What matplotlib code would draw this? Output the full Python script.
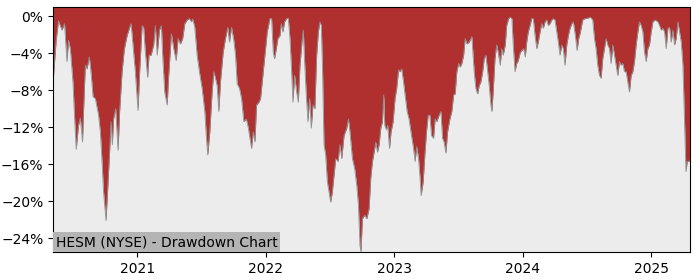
import numpy as np
import matplotlib
matplotlib.use("Agg")
import matplotlib.pyplot as plt
from matplotlib.ticker import MultipleLocator, PercentFormatter

# drawdown of HESM, x in decimal years, y in percent
years = [
    2020.345, 2020.368, 2020.386, 2020.413, 2020.433, 2020.452, 2020.464, 2020.478, 2020.499, 2020.509,
    2020.524, 2020.542, 2020.556, 2020.573, 2020.581, 2020.595, 2020.608, 2020.626, 2020.639, 2020.655,
    2020.673, 2020.698, 2020.712, 2020.725, 2020.737, 2020.756, 2020.768, 2020.784, 2020.795, 2020.805,
    2020.815, 2020.831, 2020.850, 2020.862, 2020.881, 2020.899, 2020.920, 2020.940, 2020.951, 2020.966,
    2020.984, 2021.005, 2021.018, 2021.037, 2021.049, 2021.062, 2021.080, 2021.091, 2021.107, 2021.127,
    2021.140, 2021.154, 2021.172, 2021.187, 2021.197, 2021.213, 2021.232, 2021.244, 2021.265, 2021.283,
    2021.302, 2021.317, 2021.335, 2021.353, 2021.369, 2021.388, 2021.405, 2021.421, 2021.431, 2021.447,
    2021.465, 2021.483, 2021.504, 2021.525, 2021.538, 2021.548, 2021.564, 2021.582, 2021.595, 2021.608,
    2021.621, 2021.634, 2021.647, 2021.668, 2021.686, 2021.704, 2021.717, 2021.733, 2021.751, 2021.764,
    2021.777, 2021.795, 2021.811, 2021.829, 2021.848, 2021.863, 2021.881, 2021.889, 2021.902, 2021.915,
    2021.928, 2021.946, 2021.959, 2021.985, 2022.011, 2022.032, 2022.045, 2022.058, 2022.068, 2022.084,
    2022.094, 2022.110, 2022.120, 2022.133, 2022.146, 2022.162, 2022.175, 2022.188, 2022.201, 2022.211,
    2022.224, 2022.240, 2022.253, 2022.266, 2022.284, 2022.292, 2022.302, 2022.315, 2022.328, 2022.341,
    2022.354, 2022.367, 2022.382, 2022.396, 2022.409, 2022.421, 2022.432, 2022.442, 2022.453, 2022.466,
    2022.479, 2022.492, 2022.505, 2022.518, 2022.531, 2022.544, 2022.562, 2022.577, 2022.591, 2022.609,
    2022.630, 2022.643, 2022.655, 2022.674, 2022.692, 2022.708, 2022.721, 2022.733, 2022.741, 2022.752,
    2022.770, 2022.786, 2022.804, 2022.817, 2022.830, 2022.843, 2022.856, 2022.869, 2022.882, 2022.895,
    2022.908, 2022.918, 2022.926, 2022.939, 2022.949, 2022.963, 2022.975, 2022.991, 2023.006, 2023.019,
    2023.033, 2023.045, 2023.058, 2023.072, 2023.084, 2023.100, 2023.115, 2023.134, 2023.150, 2023.162,
    2023.175, 2023.189, 2023.201, 2023.209, 2023.225, 2023.238, 2023.251, 2023.264, 2023.277, 2023.290,
    2023.306, 2023.318, 2023.331, 2023.349, 2023.363, 2023.376, 2023.388, 2023.402, 2023.415, 2023.433,
    2023.448, 2023.462, 2023.474, 2023.487, 2023.501, 2023.513, 2023.526, 2023.540, 2023.552, 2023.565,
    2023.583, 2023.604, 2023.622, 2023.635, 2023.649, 2023.661, 2023.674, 2023.688, 2023.700, 2023.713,
    2023.727, 2023.739, 2023.752, 2023.760, 2023.770, 2023.784, 2023.797, 2023.809, 2023.825, 2023.836,
    2023.848, 2023.864, 2023.875, 2023.890, 2023.903, 2023.916, 2023.926, 2023.940, 2023.953, 2023.965,
    2023.981, 2023.994, 2024.007, 2024.020, 2024.031, 2024.043, 2024.057, 2024.070, 2024.082, 2024.096,
    2024.109, 2024.121, 2024.135, 2024.148, 2024.160, 2024.174, 2024.187, 2024.199, 2024.212, 2024.226,
    2024.238, 2024.251, 2024.265, 2024.277, 2024.290, 2024.304, 2024.316, 2024.329, 2024.343, 2024.355,
    2024.368, 2024.382, 2024.394, 2024.410, 2024.423, 2024.436, 2024.449, 2024.467, 2024.485, 2024.506,
    2024.527, 2024.545, 2024.558, 2024.571, 2024.584, 2024.597, 2024.610, 2024.623, 2024.636, 2024.649,
    2024.662, 2024.675, 2024.688, 2024.701, 2024.714, 2024.727, 2024.740, 2024.753, 2024.766, 2024.779,
    2024.792, 2024.805, 2024.818, 2024.831, 2024.844, 2024.857, 2024.870, 2024.883, 2024.896, 2024.909,
    2024.922, 2024.935, 2024.948, 2024.961, 2024.974, 2024.987, 2025.000, 2025.013, 2025.031, 2025.052,
    2025.065, 2025.078, 2025.091, 2025.104, 2025.117, 2025.130, 2025.143, 2025.156, 2025.169, 2025.182,
    2025.195, 2025.208, 2025.221, 2025.234, 2025.247, 2025.260, 2025.271, 2025.281, 2025.294, 2025.304,
]
drawdown = [
    -6.9, -2.6, -0.5, -1.5, -0.8, -4.9, -2.6, -3.5, -7.2, -10.3,
    -14.4, -11.8, -11.0, -13.6, -10.3, -5.3, -5.7, -4.4, -6.0, -8.7,
    -8.9, -10.7, -12.5, -15.7, -19.0, -22.1, -19.0, -14.7, -11.4, -13.9,
    -11.1, -10.0, -14.5, -10.3, -6.0, -3.5, -2.1, -1.2, -0.8, -3.1,
    -6.0, -10.2, -6.0, -1.0, -1.2, -3.9, -6.6, -4.2, -4.2, -3.1,
    -1.0, -4.2, -1.5, -1.0, -4.2, -8.2, -9.6, -6.4, -1.9, -3.5,
    -4.8, -2.4, -3.0, -2.4, -0.8, -0.4, -0.25, -0.6, -0.3, -1.2,
    -4.2, -6.0, -7.8, -10.3, -13.2, -15.0, -12.5, -8.2, -6.0, -6.7,
    -7.5, -10.3, -7.1, -3.9, -2.4, -1.2, -2.8, -1.2, -2.6, -4.2,
    -7.3, -7.8, -8.9, -11.4, -11.1, -12.0, -13.6, -14.3, -12.5, -13.6,
    -9.6, -9.3, -8.9, -5.3, -1.7, -0.25, -0.25, -3.9, -4.6, -3.3,
    -2.4, -2.1, -0.8, -1.7, -0.6, -0.25, -0.2, -2.4, -6.0, -9.3,
    -6.4, -8.2, -9.3, -5.3, -2.4, -1.5, -4.9, -8.5, -11.4, -8.9,
    -12.1, -9.6, -10.0, -4.2, -1.7, -0.6, -1.0, -6.0, -13.9, -15.0,
    -17.9, -19.0, -20.1, -19.0, -17.2, -15.4, -15.7, -13.9, -15.4, -12.9,
    -12.1, -11.1, -12.5, -15.4, -16.5, -18.3, -20.4, -24.8, -25.5, -21.9,
    -21.5, -21.9, -20.8, -17.5, -15.7, -14.7, -13.6, -14.7, -13.9, -12.1,
    -11.4, -8.5, -11.8, -12.3, -11.8, -14.3, -12.5, -11.4, -8.9, -7.8,
    -5.8, -6.0, -5.7, -7.1, -8.5, -10.3, -11.1, -12.9, -14.3, -15.7,
    -14.1, -15.4, -17.5, -19.4, -17.9, -15.0, -12.5, -10.7, -10.7, -12.9,
    -13.2, -11.1, -11.4, -10.7, -10.3, -13.2, -13.6, -14.8, -12.5, -11.1,
    -10.3, -8.5, -8.4, -6.0, -5.1, -5.5, -5.1, -4.2, -2.4, -3.0,
    -2.8, -2.2, -6.0, -7.8, -8.4, -7.5, -7.1, -6.0, -4.6, -4.2,
    -6.0, -7.5, -9.6, -10.3, -8.2, -4.6, -3.1, -3.9, -5.3, -3.5,
    -4.2, -3.1, -1.0, -0.25, -0.1, -0.25, -3.1, -6.0, -5.1, -4.8,
    -3.9, -3.7, -3.5, -4.4, -2.8, -1.7, -1.0, -0.25, -0.25, -2.1,
    -3.5, -2.8, -1.7, -0.8, -1.3, -0.6, -0.4, -1.0, -0.8, -0.4,
    -0.25, -0.4, -1.7, -2.8, -4.2, -3.1, -3.5, -5.3, -3.1, -2.1,
    -1.3, -0.8, -0.6, -2.1, -3.7, -2.4, -1.7, -0.4, -0.25, -0.2,
    -0.1, -0.4, -2.4, -3.5, -5.3, -6.4, -6.7, -4.6, -3.5, -2.4,
    -3.1, -3.5, -5.1, -3.1, -4.2, -5.3, -6.4, -4.9, -5.3, -5.1,
    -6.0, -6.0, -7.1, -8.2, -6.4, -6.0, -4.9, -3.1, -1.7, -0.6,
    -1.0, -1.7, -3.9, -4.9, -3.5, -3.1, -1.7, -0.6, -0.4, -0.6,
    -1.0, -1.5, -1.3, -1.7, -3.5, -1.3, -1.2, -2.8, -1.5, -3.1,
    -2.4, -0.6, -1.7, -2.8, -5.3, -11.4, -16.8, -15.7, -15.7, -15.5,
]
year_ticks = [2021, 2022, 2023, 2024, 2025]
title = "HESM (NYSE) - Drawdown Chart"

x = np.array(years)
y = np.array(drawdown)
top = 1.0

fig = plt.figure(figsize=(7, 2.8), dpi=100)
ax = fig.add_axes([0.076, 0.1, 0.91, 0.875])
ax.set_facecolor("#ececec")

ax.fill_between(x, y, top, color="#b03030", linewidth=0)
ax.plot(x, y, color="#8c9393", linewidth=0.6)

ax.set_xlim(x.min(), x.max())
ax.set_ylim(y.min(), top)
ax.set_xticks(year_ticks)
ax.set_xticklabels([str(t) for t in year_ticks])
ax.yaxis.set_major_locator(MultipleLocator(4))
ax.yaxis.set_major_formatter(PercentFormatter(xmax=100, decimals=0))
ax.tick_params(labelsize=10)

ax.text(0.004, 0.012, title, transform=ax.transAxes, fontsize=10,
        ha="left", va="bottom",
        bbox=dict(facecolor="#b4b4b4", edgecolor="none", pad=2))

fig.savefig("out.png", dpi=100)
